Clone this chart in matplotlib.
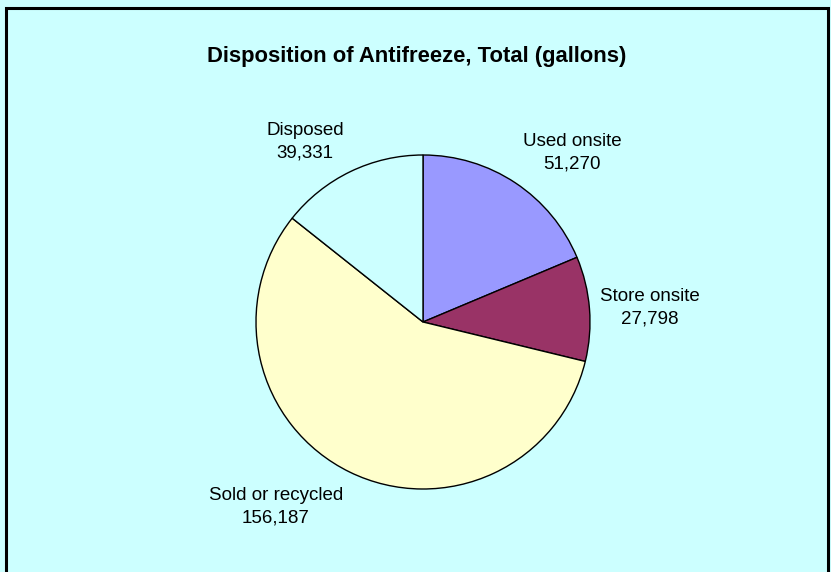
import matplotlib.pyplot as plt
from matplotlib.patches import Rectangle

# Disposition of antifreeze, gallons
categories = ['Used onsite', 'Store onsite', 'Sold or recycled', 'Disposed']
gallons = [51270, 27798, 156187, 39331]
colors = ['#9999FF', '#993366', '#FFFFCC', '#CCFFFF']

W, H = 831, 572
BG = '#CCFFFF'

# label anchors (pixel x, baseline of first line measured from top)
label_pos = [(572, 146), (650, 301), (276, 500), (305, 135)]


def top(y):
    """pixel row from the top -> data y"""
    return H - y


def main():
    plt.rcParams['font.family'] = ['Liberation Sans', 'DejaVu Sans']

    fig = plt.figure(figsize=(W / 100, H / 100), dpi=100)
    fig.patch.set_facecolor(BG)
    ax = fig.add_axes([0, 0, 1, 1])
    ax.set_facecolor(BG)

    ax.pie(gallons,
           colors=colors,
           startangle=90,
           counterclock=False,
           center=(423, top(322)),
           radius=167,
           wedgeprops=dict(edgecolor='black', linewidth=1.0))

    ax.set_xlim(0, W)
    ax.set_ylim(0, H)
    ax.set_aspect('equal')
    ax.axis('off')

    # chart frame, bottom edge runs off the picture
    ax.add_patch(Rectangle((6, -20), 822, H - 4 + 20 - 4,
                           fill=False, edgecolor='black', linewidth=2.2,
                           clip_on=False))

    ax.text(417, top(62), 'Disposition of Antifreeze, Total (gallons)',
            fontsize=15.8, fontweight='bold', ha='center', va='baseline')

    for name, val, (x, y) in zip(categories, gallons, label_pos):
        ax.text(x, top(y), name, fontsize=13.5, ha='center', va='baseline')
        ax.text(x, top(y + 22.5), f'{val:,}', fontsize=13.5,
                ha='center', va='baseline')

    fig.savefig('out.png', dpi=100, facecolor=BG)


if __name__ == '__main__':
    main()
